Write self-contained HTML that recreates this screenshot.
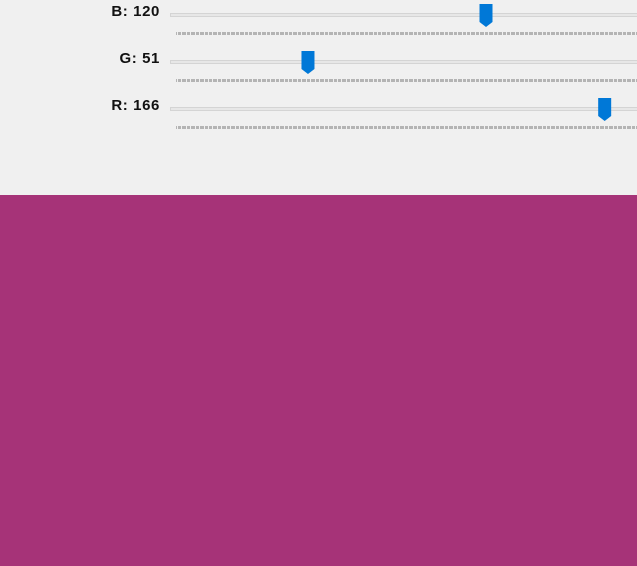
<!DOCTYPE html>
<html><head><meta charset="utf-8"><style>
body{margin:0;width:637px;height:566px;overflow:hidden;font-family:"Liberation Sans",sans-serif;}
#panel{position:absolute;left:0;top:0;width:637px;height:195px;background:#f0f0f0;}
#swatch{position:absolute;left:0;top:195px;width:637px;height:371px;}
.lbl{position:absolute;width:160px;text-align:right;font-weight:bold;font-size:15px;letter-spacing:0.6px;color:#111;}
</style></head><body>
<div id="panel">
<svg id="sv" width="637" height="195" style="position:absolute;left:0;top:0"></svg>
</div>
<div id="swatch"></div>
<script>
const channels=["B","G","R"];
const values=[120,51,166];
const rowY=[15,62,109];
const maxV=255;
const x0=176.4, k=2.58;
function sx(v){return x0+v*k;}
const sv=document.getElementById('sv');
const ns='http://www.w3.org/2000/svg';
function mk(t,a){const e=document.createElementNS(ns,t);for(const n in a)e.setAttribute(n,a[n]);sv.appendChild(e);return e;}
channels.forEach((c,i)=>{
  const y=rowY[i];
  const lb=document.createElement('div');
  lb.className='lbl';lb.style.left='0px';lb.style.top=(y-12)+'px';
  lb.textContent=c+': '+values[i];
  
  
  document.getElementById('panel').appendChild(lb);
  const tr=mk('rect',{x:170.5,y:y-1.5,width:480,height:3,fill:'#e7e7e7',stroke:'#d4d4d4','stroke-width':1});
  
  
  let d='';
  for(let v=0;v<=maxV*2;v++){const x=Math.round(x0+v*k/2)+0.5;if(x>637)break;d+='M'+x+' '+(y+17)+'v3';}
  const tk=mk('path',{d:d,stroke:'#b4b4b4','stroke-width':1});
  
  
  const cx=sx(values[i]);
  const th=mk('path',{d:`M${cx-6.5} ${y-11}h13v18l-6.5 5l-6.5 -5z`,fill:'#0078d7'});
  
  
});
document.getElementById('swatch').style.background='rgb('+values[2]+','+values[1]+','+values[0]+')';
</script>
</body></html>
